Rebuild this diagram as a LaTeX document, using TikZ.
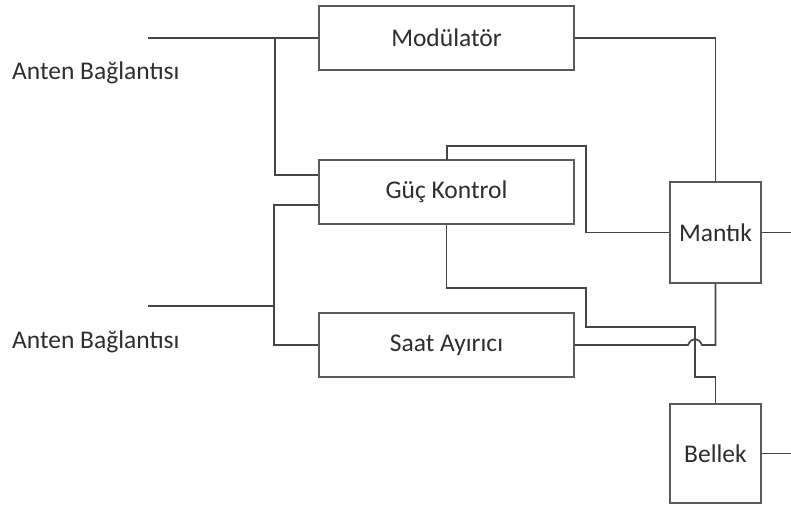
\documentclass[tikz,border=0pt]{standalone}
\usepackage{fontspec}
\setmainfont{Carlito}
\usetikzlibrary{calc}
\definecolor{wire}{HTML}{454545}
\definecolor{boxline}{HTML}{5A5A5A}
\definecolor{txt}{HTML}{2E2E2E}
\begin{document}
\begin{tikzpicture}[x=1pt,y=-1pt,
  blk/.style={draw=boxline,line width=1.4pt,fill=white,rectangle,inner sep=0pt,
    text=txt,font=\fontsize{25.5}{30}\selectfont},
  lbl/.style={text=txt,font=\fontsize{25.5}{30}\selectfont,inner sep=0pt,anchor=base west},
  wire/.style={draw=wire,line width=1.7pt}]
\useasboundingbox (0,0) rectangle (791,506);
% boxes
\node[blk,minimum width=255pt,minimum height=64pt] (mod) at (446.5,38) {Modülatör};
\node[blk,minimum width=255pt,minimum height=64pt] (guc) at (446.5,192) {Güç Kontrol};
\node[blk,minimum width=255pt,minimum height=64pt] (saat) at (446.5,345) {Saat Ayırıcı};
\node[blk,minimum width=91pt,minimum height=101pt] (mantik) at (715.5,232.5) {Mantık};
\node[blk,minimum width=91pt,minimum height=99pt] (bellek) at (715.5,453.5) {Bellek};
% labels
\node[lbl] (ant1) at (12,79) {Anten Bağlantısı};
\node[lbl] (ant2) at (12,348) {Anten Bağlantısı};
% free ends and junctions
\coordinate (a1) at (148,38);
\coordinate (j1) at (275,38);
\coordinate (a2) at (148,306);
\coordinate (j2) at (274,306);
\coordinate (m1) at (791,232.5);
\coordinate (b1) at (791,453.5);
% antenna 1
\draw[wire] (a1) -- (mod.west);
\draw[wire] (j1) |- (guc.west |- 0,175);
% antenna 2
\draw[wire] (a2) -- (j2);
\draw[wire] (guc.west |- 0,205) -| (j2) |- (saat.west);
% modulator to mantik
\draw[wire] (mod.east) -| (mantik.north);
% guc top to mantik
\draw[wire] (447,160) -- (447,146) -- (586,146) |- (mantik.west);
% guc bottom to bellek
\draw[wire] (guc.south) -- (446.5,288) -- (586,288) -- (586,327) -- (695,327) -- (695,377) -- (bellek.north |- 0,377) -- (bellek.north);
% saat to mantik with hop
\draw[wire] (saat.east) -- (688,345) .. controls (691.5,337) and (698.5,337) .. (702,345) -| (mantik.south);
% outputs
\draw[wire] (mantik.east) -- (m1);
\draw[wire] (bellek.east) -- (b1);
\end{tikzpicture}
\end{document}
